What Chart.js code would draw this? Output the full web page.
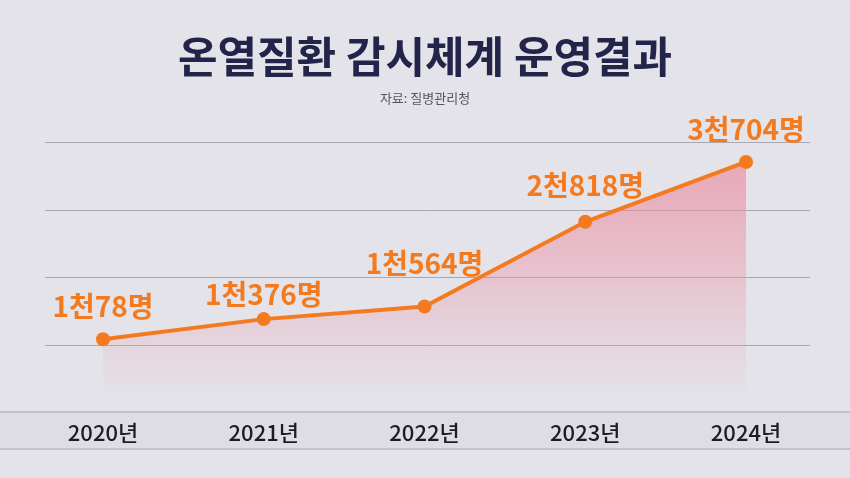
<!DOCTYPE html>
<html><head><meta charset="utf-8">
<script src="https://cdn.jsdelivr.net/npm/chart.js@4"></script>
<style>
html,body{margin:0;padding:0;background:#e4e3e9;}
#wrap{position:relative;width:850px;height:478px;}
</style></head>
<body><div id="wrap"><canvas id="c" width="850" height="478"></canvas></div>
<script>
var years = ['2020년', '2021년', '2022년', '2023년', '2024년'];
var cases = [1078, 1376, 1564, 2818, 3704];
var caseLabels = ['1천78명', '1천376명', '1천564명', '2천818명', '3천704명'];
var gridValues = [1000, 2000, 3000, 4000];
var labelLift = [32, 24, 42, 36, 32];

var FONT = "'Noto Sans CJK KR', 'Noto Sans', sans-serif";
var ORANGE = '#f47a1f';

var decor = {
  id: 'decor',
  beforeDatasetsDraw: function (chart) {
    var c = chart.ctx, y = chart.scales.y;
    c.save();
    c.strokeStyle = '#a9a8b0'; c.lineWidth = 1;
    gridValues.forEach(function (v) {
      var py = Math.round(y.getPixelForValue(v)) + 0.5;
      c.beginPath(); c.moveTo(45, py); c.lineTo(810, py); c.stroke();
    });
    // bottom band
    var b = Math.round(y.getPixelForValue(0));
    c.fillStyle = '#dedde3';
    c.fillRect(0, b, 850, 37);
    c.strokeStyle = '#c3c2c9'; c.lineWidth = 2;
    c.beginPath(); c.moveTo(0, b); c.lineTo(850, b); c.stroke();
    c.beginPath(); c.moveTo(0, b + 37); c.lineTo(850, b + 37); c.stroke();
    c.restore();
  },
  afterDatasetsDraw: function (chart) {
    var c = chart.ctx, x = chart.scales.x, y = chart.scales.y;
    c.save();
    c.textAlign = 'center';
    c.fillStyle = '#23244a';
    c.font = 'bold 43px ' + FONT;
    c.fillText('온열질환 감시체계 운영결과', 425, 73);
    c.fillStyle = '#555560';
    c.font = '13px ' + FONT;
    c.fillText('자료: 질병관리청', 425, 103);
    var base = y.getPixelForValue(0);
    years.forEach(function (t, i) {
      var px = x.getPixelForValue(i);
      c.fillStyle = '#1c1c22';
      c.font = '500 22px ' + FONT;
      c.textBaseline = 'middle';
      c.fillText(t, px, base + 21);
      c.fillStyle = ORANGE;
      c.font = 'bold 28px ' + FONT;
      c.textBaseline = 'alphabetic';
      c.fillText(caseLabels[i], px, y.getPixelForValue(cases[i]) - labelLift[i] + 10);
    });
    c.restore();
  }
};

new Chart(document.getElementById('c'), {
  type: 'line',
  data: {
    labels: years,
    datasets: [{
      data: cases,
      borderColor: ORANGE,
      borderWidth: 4,
      pointRadius: 7,
      pointBackgroundColor: ORANGE,
      pointBorderWidth: 0,
      tension: 0,
      fill: 'origin',
      backgroundColor: function (ctx) {
        var ca = ctx.chart.chartArea;
        if (!ca) return 'rgba(240,150,170,0.5)';
        var g = ctx.chart.ctx.createLinearGradient(0, ca.top, 0, ca.bottom - 15);
        g.addColorStop(0, 'rgba(235,140,160,0.75)');
        g.addColorStop(1, 'rgba(235,140,160,0)');
        return g;
      }
    }]
  },
  options: {
    responsive: false,
    animation: false,
    layout: { padding: { left: 103, right: 104, top: 142, bottom: 66 } },
    plugins: { legend: { display: false }, tooltip: { enabled: false } },
    scales: {
      x: { display: false },
      y: { display: false, min: 0, max: 4000 }
    }
  },
  plugins: [decor]
});
</script></body></html>
